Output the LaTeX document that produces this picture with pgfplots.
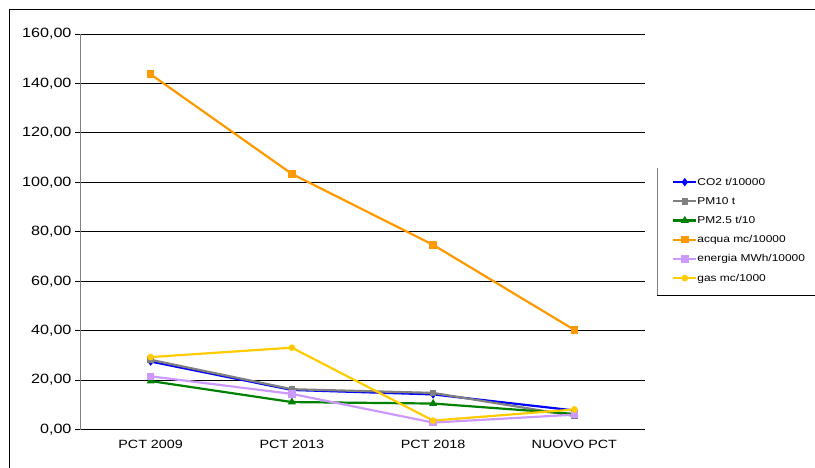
\documentclass[border=0pt]{standalone}
\usepackage{fontspec}
\setmainfont{Liberation Sans}[FakeStretch=1.2]
\usepackage{pgfplots}
\pgfplotsset{compat=1.18}
\definecolor{cblue}{RGB}{0,0,255}
\definecolor{cgray}{RGB}{128,128,128}
\definecolor{cgreen}{RGB}{0,128,0}
\definecolor{corange}{RGB}{255,153,0}
\definecolor{cpurple}{RGB}{204,153,255}
\definecolor{cyellow}{RGB}{255,204,0}
\begin{document}
\begin{tikzpicture}
\path[use as bounding box] (-80bp,-38.5bp) rectangle (735bp,429.5bp);
\draw[black,line width=0.9bp] (-71bp,-40bp) -- (-71bp,420.5bp) -- (740bp,420.5bp);
\begin{axis}[
  at={(0,0)}, anchor=south west,
  scale only axis, width=565bp, height=395.5bp,
  xmin=-0.5, xmax=3.5, ymin=0, ymax=160,
  axis lines=left, axis line style={-},
  y axis line style={cgray, line width=0.8bp},
  x axis line style={black, line width=0.8bp},
  xtick={0,1,2,3},
  xticklabels={PCT 2009, PCT 2013, PCT 2018, NUOVO PCT},
  xtick style={draw=none},
  minor xtick={-0.5,0.5,1.5,2.5,3.5},
  minor x tick style={black, line width=0.8bp},
  minor tick length=5bp,
  ytick={0,20,...,160},
  ytick style={black, line width=0.8bp},
  major tick length=5bp,
  tick align=outside,
  ymajorgrids, grid style={black, line width=0.8bp},
  /pgf/number format/assume math mode=true,
  yticklabel style={font=\fontsize{13.5}{15}\selectfont, /pgf/number format/.cd, fixed, fixed zerofill, precision=2, use comma},
  xticklabel style={font=\fontsize{12}{14}\selectfont, yshift=-2bp},
  every axis plot/.append style={line width=2.2bp},
  legend image code/.code={\draw[mark repeat=2,mark phase=2,#1] plot coordinates {(0bp,0bp)(11.5bp,0bp)(23bp,0bp)};},
  legend style={draw=none, fill=none, at={(1.0478,0.6387)}, anchor=north west,
    font=\fontsize{10}{12}\selectfont, inner sep=0pt, row sep=9.2bp,
    nodes={inner sep=0pt, text height=8bp, text depth=2bp},
    /tikz/every even column/.append style={column sep=2bp}},
  legend cell align=left,
]
\addplot[cblue, mark=diamond*, mark size=2.5bp] coordinates {(0,27.5) (1,16.0) (2,14.2) (3,7.7)};
\addlegendentry{CO2 t/10000}
\addplot[cgray, mark=square*, mark size=2.2bp] coordinates {(0,28.2) (1,16.3) (2,14.8) (3,5.5)};
\addlegendentry{PM10 t}
\addplot[cgreen, mark=triangle*, mark size=2.5bp] coordinates {(0,19.6) (1,11.1) (2,10.5) (3,6.3)};
\addlegendentry{PM2.5 t/10}
\addplot[corange, mark=square*, mark size=2.7bp] coordinates {(0,143.7) (1,103.4) (2,74.7) (3,40.3)};
\addlegendentry{acqua mc/10000}
\addplot[cpurple, mark=square*, mark size=2.7bp] coordinates {(0,21.5) (1,14.4) (2,2.8) (3,6.0)};
\addlegendentry{energia MWh/10000}
\addplot[cyellow, mark=*, mark size=2.2bp] coordinates {(0,29.3) (1,33.1) (2,3.6) (3,8.1)};
\addlegendentry{gas mc/1000}
\end{axis}
\draw[cgray, line width=0.8bp] (577bp,261.5bp) -- (577bp,134.5bp);
\draw[black, line width=0.8bp] (577bp,134.5bp) -- (740bp,134.5bp);
\end{tikzpicture}
\end{document}
